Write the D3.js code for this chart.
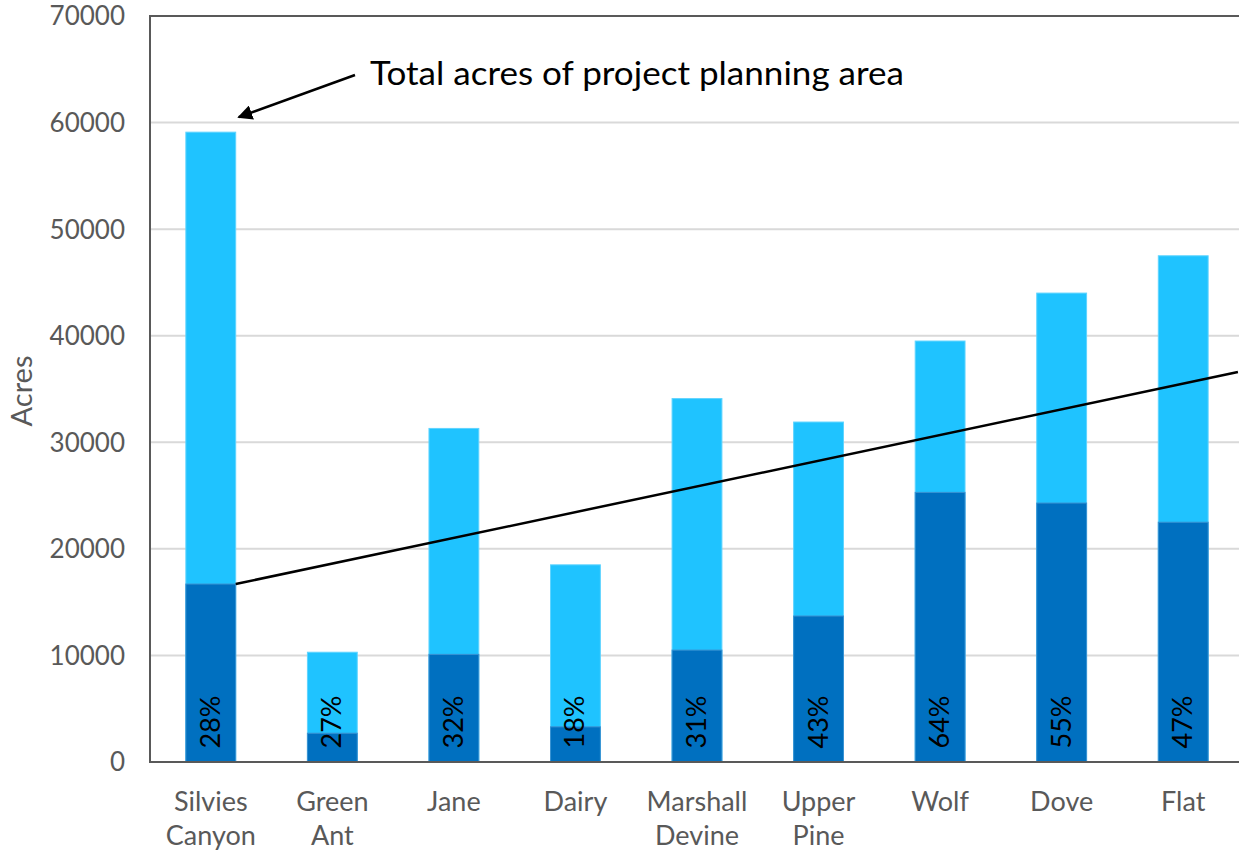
<!DOCTYPE html>
<html><head><meta charset="utf-8">
<script src="https://cdn.jsdelivr.net/npm/d3@7"></script>
<style>body{margin:0;background:#fff;overflow:hidden}</style>
</head><body>
<svg id="c" width="1239" height="854"></svg>
<script>
const categories = ["Silvies\nCanyon","Green\nAnt","Jane","Dairy","Marshall\nDevine","Upper\nPine","Wolf","Dove","Flat"];
const totalAcres = [59100, 10300, 31300, 18500, 34100, 31900, 39500, 44000, 47500];
const treatedAcres = [16700, 2700, 10100, 3300, 10500, 13700, 25300, 24300, 22500];
const percentLabels = ["28%","27%","32%","18%","31%","43%","64%","55%","47%"];
const yTicks = [0,10000,20000,30000,40000,50000,60000,70000];
// trend line endpoints: [category position (index units), acres]
const trendLine = [[0.205, 16700], [8.45, 36600]];
const annotation = "Total acres of project planning area";

(function(){
const svg = d3.select("#c");
const mL = 150, mR = 1244, mT = 16, mB = 762;
const x = d3.scaleBand().domain(d3.range(categories.length)).range([mL, mR]).paddingInner(0.59).paddingOuter(0.295);
const y = d3.scaleLinear().domain([0, 70000]).range([mB, mT]);
const xc = i => x(0) + x.bandwidth()/2 + i * x.step();

const font = "Lato, 'Open Sans', sans-serif";
// gridlines
svg.append("g").selectAll("line").data(yTicks.filter(d=>d>0)).join("line")
  .attr("x1", mL).attr("x2", mR).attr("y1", d=>y(d)).attr("y2", d=>y(d))
  .attr("stroke", d=> d===70000 ? "#595959" : "#d9d9d9").attr("stroke-width", 2);

// y tick labels
svg.append("g").selectAll("text").data(yTicks).join("text")
  .attr("x", 125).attr("y", d=>y(d)).attr("dy","0.36em").attr("text-anchor","end")
  .attr("font-family", font).attr("font-size", 26).attr("fill","#595959").text(d=>d);

// bars
const g = svg.append("g");
g.selectAll("rect.t").data(totalAcres).join("rect").attr("class","t")
  .attr("x",(d,i)=>x(i)).attr("width",x.bandwidth()).attr("y",d=>y(d)).attr("height",d=>y(0)-y(d))
  .attr("fill","#1fc3ff").attr("stroke","#5fd4ff").attr("stroke-width",1);
g.selectAll("rect.d").data(treatedAcres).join("rect").attr("class","d")
  .attr("x",(d,i)=>x(i)).attr("width",x.bandwidth()).attr("y",d=>y(d)).attr("height",d=>y(0)-y(d))
  .attr("fill","#0070c0").attr("stroke","#3a93d3").attr("stroke-width",1);

// percent labels
g.selectAll("text.p").data(percentLabels).join("text").attr("class","p")
  .attr("transform",(d,i)=>`translate(${xc(i)+9},${722}) rotate(-90)`)
  .attr("text-anchor","middle").attr("font-family",font).attr("font-size",27).attr("fill","#000").text(d=>d);

// axes lines
svg.append("line").attr("x1",mL).attr("x2",mL).attr("y1",mT-1).attr("y2",mB+1).attr("stroke","#595959").attr("stroke-width",2);
svg.append("line").attr("x1",mL).attr("x2",mR).attr("y1",mB).attr("y2",mB).attr("stroke","#595959").attr("stroke-width",2);

// category labels
svg.append("g").selectAll("text").data(categories).join("text")
  .attr("x",(d,i)=>xc(i)).attr("y",811).attr("text-anchor","middle")
  .attr("font-family",font).attr("font-size",27).attr("fill","#595959")
  .each(function(d){
    const self = d3.select(this), lines=d.split("\n");
    self.selectAll("tspan").data(lines).join("tspan")
      .attr("x", self.attr("x")).attr("dy",(l,j)=>j?34:0).text(l=>l);
  });

// y axis title
svg.append("text").attr("transform","translate(32,391) rotate(-90)").attr("text-anchor","middle")
  .attr("font-family",font).attr("font-size",29).attr("fill","#595959").text("Acres");

// trend line
svg.append("line")
  .attr("x1", xc(0) + trendLine[0][0]*x.step()).attr("y1", y(trendLine[0][1]))
  .attr("x2", xc(0) + trendLine[1][0]*x.step()).attr("y2", y(trendLine[1][1]))
  .attr("stroke","#000").attr("stroke-width",2.5);

// annotation
svg.append("defs").append("marker").attr("id","ah").attr("viewBox","0 0 10 10").attr("refX",9).attr("refY",5)
  .attr("markerWidth",6).attr("markerHeight",6).attr("orient","auto-start-reverse")
  .append("path").attr("d","M0,0 L10,5 L0,10 z").attr("fill","#000");
svg.append("line").attr("x1",355).attr("y1",75).attr("x2",x(0)+x.bandwidth()+3).attr("y2",y(59100)-15)
  .attr("stroke","#000").attr("stroke-width",2.5).attr("marker-end","url(#ah)");
svg.append("text").attr("x",370).attr("y",85).attr("font-family",font).attr("font-size",33).attr("fill","#000")
  .attr("textLength",534).attr("lengthAdjust","spacingAndGlyphs").text(annotation);
})();
</script>
</body></html>
